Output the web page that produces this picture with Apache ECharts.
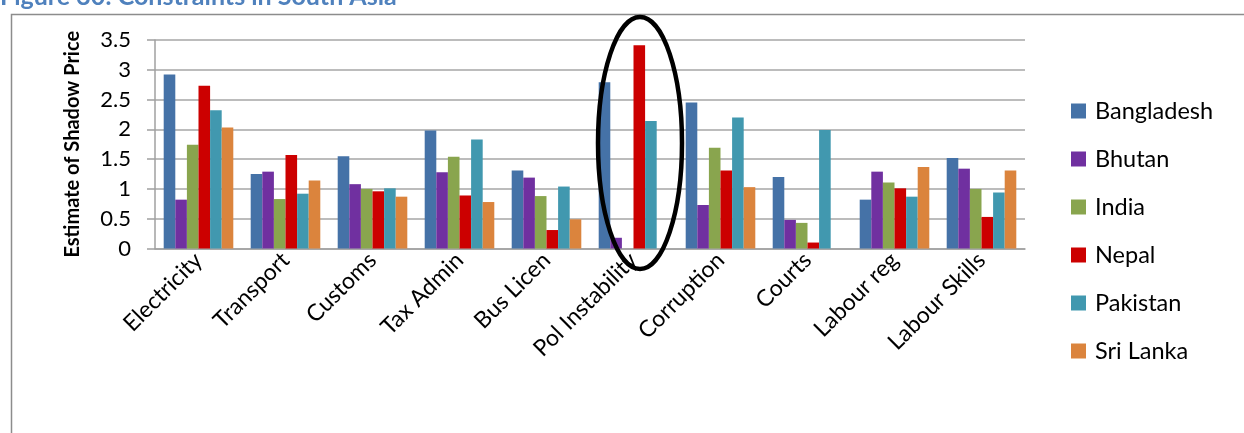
<!DOCTYPE html>
<html>
<head>
<meta charset="utf-8">
<script src="https://cdn.jsdelivr.net/npm/echarts@6/dist/echarts.min.js"></script>
<style>
html,body{margin:0;padding:0;background:#fff;}
#chart{width:1244px;height:433px;}
</style>
</head>
<body>
<div id="chart"></div>
<script>
const categories = ['Electricity','Transport','Customs','Tax Admin','Bus Licen','Pol Instability','Corruption','Courts','Labour reg','Labour Skills'];
const bangladesh = [2.92,1.25,1.55,1.98,1.31,2.79,2.45,1.20,0.82,1.52];
const bhutan     = [0.82,1.29,1.08,1.28,1.19,0.18,0.73,0.48,1.29,1.34];
const india      = [1.74,0.83,1.00,1.54,0.88,null,1.69,0.43,1.11,1.00];
const nepal      = [2.73,1.57,0.96,0.89,0.31,3.41,1.31,0.10,1.01,0.53];
const pakistan   = [2.32,0.92,1.01,1.83,1.04,2.14,2.20,1.99,0.87,0.94];
const sriLanka   = [2.03,1.14,0.87,0.78,0.49,null,1.03,null,1.37,1.31];
const seriesNames = ['Bangladesh','Bhutan','India','Nepal','Pakistan','Sri Lanka'];
const seriesData = [bangladesh,bhutan,india,nepal,pakistan,sriLanka];
const colors = ['#4572A7','#7030A0','#89A54E','#CC0000','#4198AF','#DB843D'];

const font = 'Lato, "Open Sans", sans-serif';
const chart = echarts.init(document.getElementById('chart'));
chart.setOption({
  animation:false,
  color: colors,
  textStyle:{fontFamily:font},
  graphic:[
    {type:'rect', shape:{x:11.5,y:14.5,width:1240,height:430}, style:{fill:'none',stroke:'#8c8c8c',lineWidth:1.5}, silent:true, z:0},
    {type:'text', left:0, top:-16, style:{text:'Figure 30: Constraints in South Asia', fill:'#4F81BD', font:'bold 25px '+font}, z:10},
    {type:'ellipse', shape:{cx:640, cy:143, rx:42, ry:126}, style:{fill:'none', stroke:'#000', lineWidth:4.5}, z:100, silent:true}
  ],
  legend:{
    orient:'vertical', left:1066, top:94,
    itemWidth:15, itemHeight:15, itemGap:24, icon:'rect',
    textStyle:{fontSize:23.5, color:'#000', fontFamily:font, lineHeight:24, padding:[0,0,0,4]},
    data: seriesNames
  },
  grid:{left:155, right:219, top:40, bottom:184.5, containLabel:false},
  xAxis:{
    type:'category', data:categories,
    axisLine:{lineStyle:{color:'#a0a0a0', width:1.5}},
    axisTick:{length:6, lineStyle:{color:'#a0a0a0', width:1.5}},
    axisLabel:{rotate:45, fontSize:23, color:'#000', margin:8, interval:0, fontFamily:font}
  },
  yAxis:{
    type:'value', min:0, max:3.5, interval:0.5,
    name:'Estimate of Shadow Price', nameLocation:'middle', nameGap:72, nameRotate:90,
    nameTextStyle:{fontSize:20, fontWeight:'bold', color:'#000', fontFamily:font},
    axisLine:{show:true, lineStyle:{color:'#a0a0a0', width:1.5}},
    axisTick:{show:true, length:8, lineStyle:{color:'#a0a0a0', width:1.5}},
    axisLabel:{fontSize:22, color:'#000', margin:24, fontFamily:font},
    splitLine:{lineStyle:{color:'#a6a6a6', width:1.5}}
  },
  series: seriesNames.map((n,i)=>({
    name:n, type:'bar', data:seriesData[i], barGap:'0%', barCategoryGap:'20%'
  }))
});
</script>
</body>
</html>
